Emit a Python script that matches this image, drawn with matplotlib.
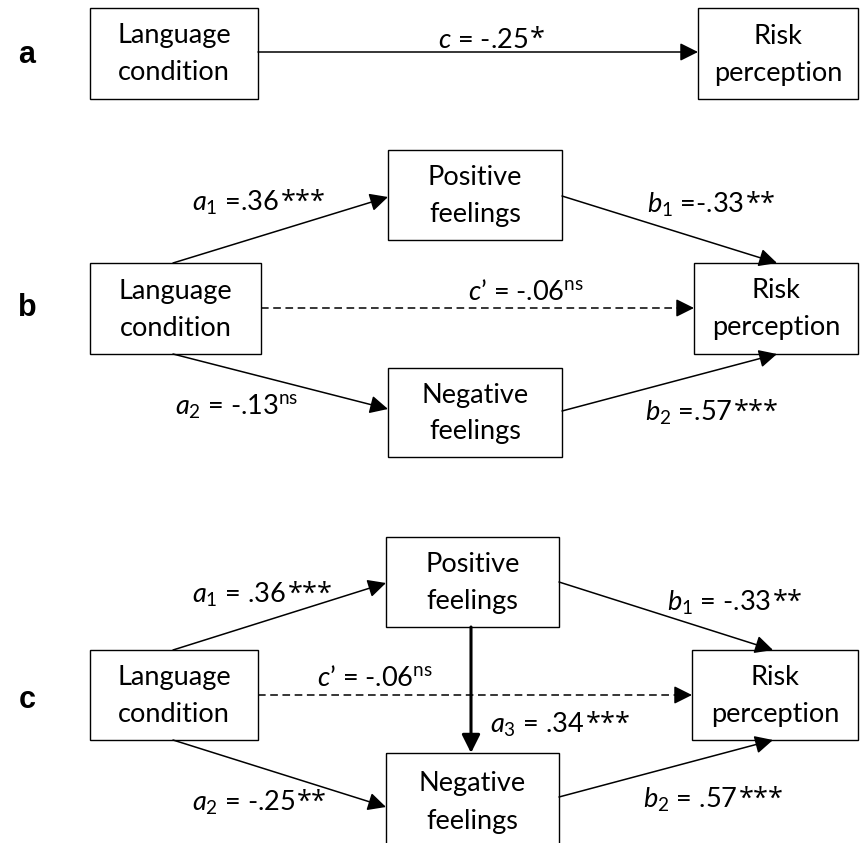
import matplotlib
matplotlib.use("Agg")
import matplotlib.pyplot as plt
from matplotlib.patches import Rectangle, FancyArrowPatch

plt.rcParams["font.family"] = ["Lato", "DejaVu Sans"]
plt.rcParams["mathtext.fontset"] = "custom"
plt.rcParams["mathtext.rm"] = "Lato"
plt.rcParams["mathtext.it"] = "Lato:italic"

# path coefficients (text, significance stars)
coef_a = [("$c$ = -.25", "*")]
coef_b = [("$a_1$ =.36", "***"), ("$b_1$ =-.33", "**"), ("$c$’ = -.0$6^{\\mathrm{ns}}$", ""),
          ("$a_2$ = -.1$3^{\\mathrm{ns}}$", ""), ("$b_2$ =.57", "***")]
coef_c = [("$a_1$ = .36", "***"), ("$b_1$ = -.33", "**"), ("$c$’ = -.0$6^{\\mathrm{ns}}$", ""),
          ("$a_2$ = -.25", "**"), ("$b_2$ = .57", "***"), ("$a_3$ = .34", "***")]
node_names = {"X": "Language\ncondition", "Y": "Risk\nperception",
              "M1": "Positive\nfeelings", "M2": "Negative\nfeelings"}
panel_letters = ["a", "b", "c"]

W, H = 860, 843
fig = plt.figure(figsize=(W / 100, H / 100), dpi=100)
ax = fig.add_axes([0, 0, 1, 1])
ax.set_xlim(0, W)
ax.set_ylim(H, 0)
ax.axis("off")

FS = 19.5


def box(x0, y0, x1, y1, key):
    ax.add_patch(Rectangle((x0, y0), x1 - x0, y1 - y0, fill=False, lw=1.0, ec="black"))
    ax.text((x0 + x1) / 2, (y0 + y1) / 2 + 1, node_names[key], ha="center", va="center",
            fontsize=FS, linespacing=1.6)


def arrow(p0, p1, lw=1.1, dashed=False):
    if dashed:
        # dashed shaft, solid head
        ax.plot([p0[0], p1[0] - 14], [p0[1], p1[1]], color="black", lw=lw,
                linestyle=(0, (5, 3)))
        p0 = (p1[0] - 16, p1[1])
    ax.add_patch(FancyArrowPatch(p0, p1, arrowstyle="-|>,head_length=11,head_width=5.5",
                                 mutation_scale=1, lw=lw, color="black",
                                 shrinkA=0, shrinkB=0))


def label(x, y, item):
    txt, stars = item
    t = ax.text(x, y, txt, ha="left", va="center", fontsize=FS)
    if stars:
        ax.annotate(stars, xy=(1, 0.5), xycoords=t, xytext=(1, 0),
                    textcoords="offset points", ha="left", va="center",
                    fontsize=FS, family=["Open Sans", "DejaVu Sans"])


# panel a
box(90, 8, 258, 99, "X")
box(698, 8, 858, 99, "Y")
arrow((258, 52), (698, 52))
label(438, 40, coef_a[0])

# panel b
box(90, 263, 261, 354, "X")
box(388, 150, 562, 240, "M1")
box(388, 368, 562, 457, "M2")
box(694, 263, 858, 354, "Y")
arrow((173, 263), (388, 197))
arrow((562, 196), (777, 263))
arrow((261, 308), (694, 308), dashed=True)
arrow((173, 354), (388, 409))
arrow((562, 411), (777, 354))
label(192, 203, coef_b[0])
label(647, 205, coef_b[1])
label(468, 292, coef_b[2])
label(175, 407, coef_b[3])
label(645, 413, coef_b[4])

# panel c
box(90, 650, 258, 740, "X")
box(386, 537, 559, 627, "M1")
box(386, 753, 559, 850, "M2")
box(692, 650, 858, 740, "Y")
arrow((173, 650), (386, 583))
arrow((559, 582), (773, 650))
arrow((258, 695), (692, 695), dashed=True)
arrow((173, 740), (386, 807))
arrow((559, 797), (773, 740))
arrow((471, 627), (471, 753), lw=2.2)
label(192, 595, coef_c[0])
label(667, 603, coef_c[1])
label(317, 678, coef_c[2])
label(192, 803, coef_c[3])
label(643, 800, coef_c[4])
label(490, 725, coef_c[5])

for letter, y in zip(panel_letters, [55, 308, 700]):
    ax.text(27, y, letter, ha="center", va="center", fontsize=22, fontweight="bold",
            family=["Liberation Sans", "DejaVu Sans"])

fig.savefig("out.png", dpi=100)
